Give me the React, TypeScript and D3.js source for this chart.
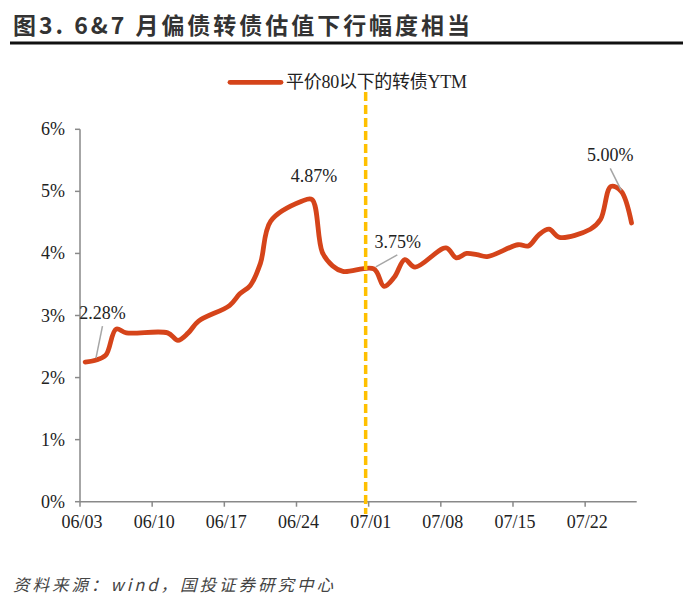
import React from "react";
import * as d3 from "d3";

const tradeDates = [
  "2024-06-03","2024-06-04","2024-06-05","2024-06-06","2024-06-07",
  "2024-06-11","2024-06-12","2024-06-13","2024-06-14",
  "2024-06-17","2024-06-18","2024-06-19","2024-06-20","2024-06-21",
  "2024-06-24","2024-06-25","2024-06-26","2024-06-27","2024-06-28",
  "2024-07-01","2024-07-02","2024-07-03","2024-07-04","2024-07-05",
  "2024-07-08","2024-07-09","2024-07-10","2024-07-11","2024-07-12",
  "2024-07-15","2024-07-16","2024-07-17","2024-07-18","2024-07-19",
  "2024-07-22","2024-07-23","2024-07-24","2024-07-25","2024-07-26",
];

const ytmValues = [
  2.25, 2.28, 2.36, 2.78, 2.72,
  2.72, 2.60, 2.72, 2.91,
  3.16, 3.35, 3.48, 3.84, 4.52,
  4.84, 4.87, 4.02, 3.80, 3.71,
  3.75, 3.47, 3.62, 3.90, 3.78,
  4.09, 3.93, 4.00, 3.98, 3.95,
  4.14, 4.12, 4.30, 4.39, 4.26,
  4.39, 4.55, 5.08, 5.00, 4.49,
];

const yTicks = [0, 1, 2, 3, 4, 5, 6];
const xTickDates = ["2024-06-03","2024-06-10","2024-06-17","2024-06-24","2024-07-01","2024-07-08","2024-07-15","2024-07-22"];
const xDomain = ["2024-06-03", "2024-07-27"];
const markerDate = "2024-06-30T17:00:00";

const annotationDates = ["2024-06-04", "2024-06-25", "2024-07-01", "2024-07-25"];
const annotationLabels = ["2.28%", "4.87%", "3.75%", "5.00%"];

const title = "图3. 6&7 月偏债转债估值下行幅度相当";
const seriesName = "平价80以下的转债YTM";
const source = "资料来源：wind，国投证券研究中心";

// layout offsets for annotation labels (label center, leader start, leader end) relative to point
const annotationLayout = [
  { lx: 7, ly: -47, l1: [7, -34], l2: [0.5, -2] },
  { lx: 2, ly: -23, l1: null, l2: null },
  { lx: 24, ly: -27, l1: [23.5, -14], l2: [2, -2] },
  { lx: -11, ly: -36, l1: [-11, -23], l2: [0, -1] },
];

const parse = (s: string) => new Date(s + (s.length === 10 ? "T00:00:00" : ""));
const halfDay = 12 * 3600 * 1000;

export default function App() {
  const W = 700, H = 614;
  const x = d3.scaleTime().domain(xDomain.map(parse)).range([80, 636.7]);
  const y = d3.scaleLinear().domain([0, 6]).range([501.7, 129.3]);
  const lineColor = "#D5441A";
  const axisColor = "#898989";
  const serif = "'Liberation Serif', 'Times New Roman', 'Noto Sans CJK SC', serif";

  const pts = tradeDates.map((d, i) => ({ t: new Date(parse(d).getTime() + halfDay), v: ytmValues[i] }));
  const line = d3
    .line<{ t: Date; v: number }>()
    .x((d) => x(d.t))
    .y((d) => y(d.v))
    .curve(d3.curveCatmullRom.alpha(0.5));

  const mx = x(parse(markerDate));

  return (
    <svg width={W} height={H} style={{ position: "absolute", left: 0, top: 0, background: "#fff" }}>
      <rect width={W} height={H} fill="#fff" />
      {/* Title */}
      <text x={13} y={34} fontFamily="'Noto Sans CJK SC', sans-serif" fontWeight={700} fontSize={23} fill="#333" textLength={457} lengthAdjust="spacing">
        {title}
      </text>
      <line x1={10} x2={683} y1={43} y2={43} stroke="#111" strokeWidth={3} />

      {/* Legend */}
      <line x1={230} x2={281} y1={82.3} y2={82.3} stroke={lineColor} strokeWidth={4.8} strokeLinecap="round" />
      <text x={286} y={88} fontFamily={serif} fontSize={18} fill="#222" textLength={181} lengthAdjust="spacing">
        {seriesName}
      </text>

      {/* Y axis */}
      <line x1={80} x2={80} y1={y(6)} y2={y(0)} stroke={axisColor} strokeWidth={1.5} />
      {yTicks.map((t) => (
        <g key={t}>
          <line x1={75} x2={80} y1={y(t)} y2={y(t)} stroke={axisColor} strokeWidth={1.5} />
          <text x={65} y={y(t) + 6} textAnchor="end" fontFamily={serif} fontSize={18} fill="#222">
            {t}%
          </text>
        </g>
      ))}

      {/* X axis */}
      <line x1={80} x2={636.7} y1={y(0)} y2={y(0)} stroke={axisColor} strokeWidth={1.5} />
      {xTickDates.map((d) => {
        const xx = x(parse(d));
        return (
          <g key={d}>
            <line x1={xx} x2={xx} y1={y(0)} y2={y(0) + 5} stroke={axisColor} strokeWidth={1.5} />
            <text x={xx + 2} y={528} textAnchor="middle" fontFamily={serif} fontSize={18} fill="#222">
              {d3.timeFormat("%m/%d")(parse(d))}
            </text>
          </g>
        );
      })}

      {/* Series */}
      <path d={line(pts) || ""} fill="none" stroke={lineColor} strokeWidth={4.8} strokeLinejoin="round" strokeLinecap="round" />

      {/* Marker dashed line */}
      <line x1={mx} x2={mx} y1={92} y2={514} stroke="#FFC000" strokeWidth={3.5} strokeDasharray="9,4" />

      {/* Annotations */}
      {annotationDates.map((d, i) => {
        const idx = tradeDates.indexOf(d);
        const p = pts[idx];
        const px = x(p.t), py = y(p.v);
        const L = annotationLayout[i];
        return (
          <g key={d}>
            {L.l1 && L.l2 && (
              <line x1={px + L.l1[0]} y1={py + L.l1[1]} x2={px + L.l2[0]} y2={py + L.l2[1]} stroke="#A6A6A6" strokeWidth={1.5} />
            )}
            <text x={px + L.lx} y={py + L.ly + 6} textAnchor="middle" fontFamily={serif} fontSize={18} fill="#222">
              {annotationLabels[i]}
            </text>
          </g>
        );
      })}

      {/* Source */}
      <text x={13} y={591} fontFamily="'Noto Sans CJK SC', sans-serif" fontStyle="italic" fontSize={16.5} fill="#444" textLength={320} lengthAdjust="spacing">
        {source}
      </text>
    </svg>
  );
}
